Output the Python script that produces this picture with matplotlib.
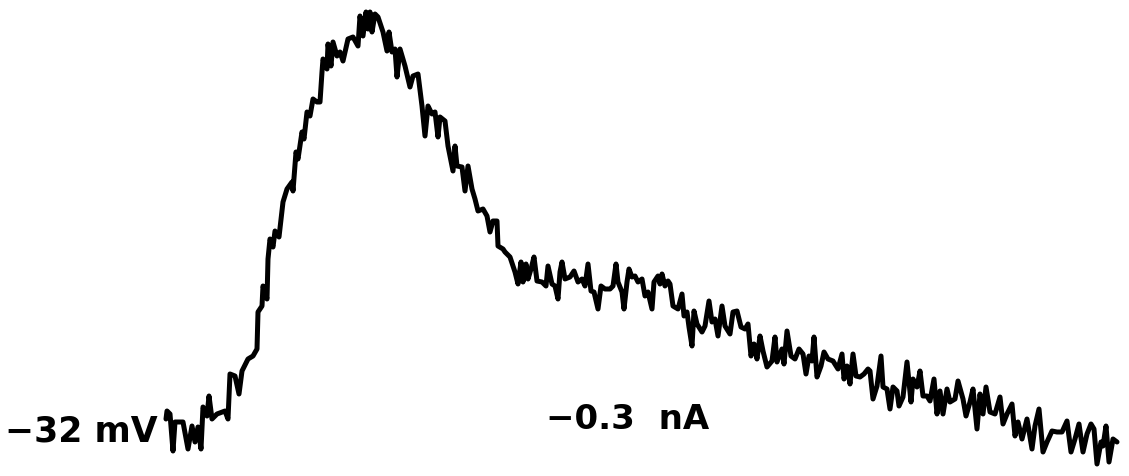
import matplotlib
matplotlib.use("Agg")
import matplotlib.pyplot as plt

# Membrane potential trace, sampled along the time axis (screen units, y grows downward)
t = [166, 167, 170, 173, 175, 183, 188, 192, 195, 198, 201, 203, 207, 209, 212, 217,
     225, 228, 230, 235, 239, 242, 248, 253, 257, 258, 262, 263, 267, 268, 270, 273,
     275, 279, 283, 287, 292, 293, 296, 298, 302, 304, 307, 310, 313, 317, 320, 322,
     323, 327, 328, 331, 333, 337, 340, 343, 348, 353, 358, 360, 363, 366, 368, 370,
     372, 375, 378, 383, 387, 389, 392, 395, 397, 400,
     405, 410, 413, 418, 422, 425, 428, 432, 435, 438, 440, 445, 448, 453, 455, 457,
     462, 465, 468, 472, 475, 478, 483, 487, 490, 493, 497, 498, 503,
     505, 510, 515, 518, 521, 523, 526, 528, 531, 534, 537, 542, 546, 548, 552, 555,
     558, 560, 562, 565, 570, 574, 578, 582, 585, 588, 591, 594, 598, 601, 605, 610,
     613, 616, 618, 622, 624, 627, 629, 632, 635, 638, 642, 645, 648, 652, 654, 658,
     660, 662, 665, 668,
     670, 673, 678, 682, 684, 687, 689, 692, 694, 697, 702, 705, 709, 712, 715, 718,
     722, 725, 730, 733, 737, 741, 745, 748, 751, 754, 757, 760, 763, 767, 772, 775,
     777, 782, 784, 787, 791, 795, 799, 803, 806, 809, 812, 814, 817, 821, 824, 828,
     833, 838, 842, 844, 847, 850, 853, 856, 860, 864, 868,
     870, 873, 877, 881, 883, 887, 890, 893, 897, 899, 903, 907, 911, 913, 917, 920,
     923, 927, 930, 934, 937, 940, 943, 947, 950, 955, 958, 963, 966, 970, 973, 977,
     980, 983, 986, 990, 995, 1000, 1003, 1007, 1012, 1015, 1018, 1022, 1027, 1032,
     1035, 1039, 1043, 1047, 1052, 1057, 1062, 1067, 1071, 1075, 1079, 1083, 1087,
     1091, 1094, 1097, 1101, 1103, 1106, 1109, 1113, 1117]
v = [420, 412, 415, 452, 423, 423, 450, 427, 443, 428, 450, 408, 417, 397, 420, 415,
     412, 420, 375, 377, 395, 372, 360, 357, 350, 313, 307, 287, 300, 260, 240, 248,
     232, 238, 203, 190, 183, 192, 153, 160, 133, 140, 113, 117, 100, 103, 103, 73,
     60, 70, 45, 67, 43, 57, 53, 62, 40, 38, 47, 17, 37, 13, 30, 13,
     33, 15, 18, 33, 52, 33, 53, 50, 78, 50,
     67, 88, 77, 75, 107, 137, 107, 115, 113, 138, 118, 122, 147, 172, 147, 167,
     168, 192, 167, 190, 200, 212, 210, 217, 233, 222, 222, 247, 250,
     253, 258, 273, 285, 263, 283, 265, 280, 270, 258, 282, 283, 287, 267, 285, 287,
     300, 273, 263, 280, 278, 272, 283, 280, 287, 265, 292, 293, 310, 287, 290, 290,
     287, 265, 283, 293, 310, 283, 270, 278, 277, 283, 280, 297, 293, 310, 283, 277,
     285, 275, 287, 282,
     285, 307, 310, 295, 317, 313, 328, 347, 312, 325, 333, 327, 302, 323, 320, 337,
     307, 327, 335, 313, 312, 328, 330, 325, 357, 345, 360, 337, 352, 368, 362, 338,
     363, 350, 365, 332, 357, 360, 350, 355, 375, 357, 362, 338, 378, 367, 353, 360,
     362, 370, 355, 380, 367, 385, 355, 377, 378, 375, 370,
     372, 400, 387, 357, 388, 390, 410, 388, 392, 407, 398, 363, 403, 380, 388, 372,
     397, 397, 402, 380, 415, 392, 415, 390, 403, 400, 382, 400, 417, 403, 390, 430,
     395, 415, 388, 413, 415, 398, 425, 415, 405, 437, 423, 440, 420, 450,
     427, 410, 453, 443, 432, 433, 433, 422, 453, 440, 425, 453, 435,
     425, 430, 465, 443, 447, 427, 463, 440, 443]

holding_potential = "\u221232 mV"
holding_current = "\u22120.3  nA"

fig = plt.figure(figsize=(11.29, 4.77), dpi=100)
ax = fig.add_axes([0, 0, 1, 1])
ax.set_xlim(0, 1129)
ax.set_ylim(477, 0)
ax.axis("off")

ax.plot(t, v, color="black", linewidth=3.6, solid_joinstyle="round",
        solid_capstyle="round")

ax.text(5, 432, holding_potential, fontsize=25, fontweight="bold",
        family="DejaVu Sans", ha="left", va="center")
ax.text(546, 420, holding_current, fontsize=24.5, fontweight="bold",
        family="DejaVu Sans", ha="left", va="center")

fig.savefig("out.png", dpi=100, facecolor="white")
